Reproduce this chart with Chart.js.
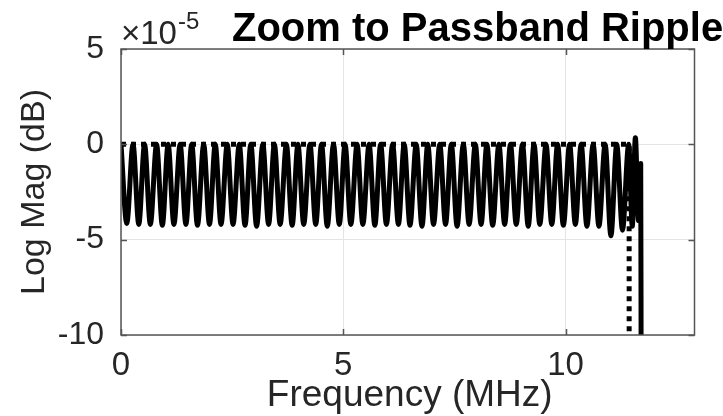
<!DOCTYPE html>
<html>
<head>
<meta charset="utf-8">
<title>Zoom to Passband Ripple</title>
<script src="https://cdn.jsdelivr.net/npm/chart.js@4.4.1/dist/chart.umd.min.js"></script>
<style>
  html, body { margin:0; padding:0; background:#fff; }
</style>
</head>
<body>
<canvas id="chart" width="723" height="416"></canvas>
<script>
// ===============================
// Data (magnitudes in units of 1e-5 dB)
// ===============================
// Measured filter response: ripple peaks/troughs across the passband, then the band edge
const rippleFreq = [
  0.00, 0.13, 0.27, 0.40, 0.53, 0.66, 0.80, 0.93, 1.06, 1.19,
  1.33, 1.46, 1.59, 1.72, 1.86, 1.99, 2.12, 2.25, 2.39, 2.52,
  2.66, 2.79, 2.92, 3.05, 3.19, 3.32, 3.45, 3.58, 3.72, 3.85,
  3.98, 4.11, 4.25, 4.38, 4.51, 4.64, 4.78, 4.91, 5.04, 5.17,
  5.31, 5.44, 5.58, 5.71, 5.84, 5.97, 6.11, 6.24, 6.37, 6.50,
  6.64, 6.77, 6.90, 7.03, 7.17, 7.30, 7.43, 7.56, 7.70, 7.83,
  7.97, 8.10, 8.23, 8.36, 8.50, 8.63, 8.76, 8.89, 9.03, 9.16,
  9.29, 9.42, 9.56, 9.69, 9.82, 9.95, 10.09, 10.22, 10.35, 10.48,
  10.62, 10.75, 10.89, 11.02, 11.15, 11.28, 11.42, 11.50, 11.57, 11.64,
  11.69, 11.70
];
const rippleMag = [
  0, -4.15, 0, -4.2, 0, -4.2, 0, -4.25, 0, -4.2,
  0, -4.2, 0, -4.25, 0, -4.2, 0, -4.2, 0, -4.2,
  0, -4.25, 0, -4.3, 0, -4.2, 0, -4.2, 0, -4.25,
  0, -4.2, 0, -4.2, 0, -4.3, 0, -4.2, 0, -4.2,
  0, -4.2, 0, -4.25, 0, -4.2, 0, -4.2, 0, -4.25,
  0, -4.3, 0, -4.2, 0, -4.2, 0, -4.3, 0, -4.2,
  0, -4.2, 0, -4.25, 0, -4.2, 0, -4.2, 0, -4.3,
  0, -4.2, 0, -4.2, 0, -4.25, 0, -4.2, 0, -4.3,
  0, -4.3, 0, -4.8, 0, -4.5, 0, -4.3, 0.35, -4.0,
  -1.0, -12
];
// Ideal (spec) response: flat to the band edge, then a brick-wall drop
const idealFreq = [0, 11.43, 11.43];
const idealMag  = [0, 0, -12];

const xTicks = [0, 5, 10];
const yTicks = [-10, -5, 0, 5];
const X_MAX = 12.9;

const FONT   = "'Liberation Sans', Arial, Helvetica, sans-serif";
const AXCOL  = "#262626";
const GRID   = "#e4e4e4";

const toPts = (xs, ys) => xs.map((x, i) => ({ x, y: ys[i] }));

// ===============================
// Frame, inward ticks, labels
// ===============================
const framePlugin = {
  id: "frame",
  afterDraw(chart) {
    const { ctx, chartArea: a, scales: { x, y } } = chart;
    ctx.save();
    ctx.strokeStyle = "#555";
    ctx.lineWidth = 1.5;
    ctx.strokeRect(a.left, a.top, a.right - a.left, a.bottom - a.top);

    // inward tick marks on all four sides
    const L = 6;
    ctx.beginPath();
    xTicks.forEach(v => {
      const px = Math.round(x.getPixelForValue(v)) + 0.5;
      ctx.moveTo(px, a.bottom); ctx.lineTo(px, a.bottom - L);
      ctx.moveTo(px, a.top);    ctx.lineTo(px, a.top + L);
    });
    yTicks.forEach(v => {
      const py = Math.round(y.getPixelForValue(v)) + 0.5;
      ctx.moveTo(a.left, py);  ctx.lineTo(a.left + L, py);
      ctx.moveTo(a.right, py); ctx.lineTo(a.right - L, py);
    });
    ctx.stroke();

    // axis titles
    ctx.fillStyle = AXCOL;
    ctx.textAlign = "center";
    ctx.textBaseline = "alphabetic";
    ctx.font = `37px ${FONT}`;
    ctx.fillText("Frequency (MHz)", (a.left + a.right) / 2 + 2, 406);

    ctx.save();
    ctx.translate(44, (a.top + a.bottom) / 2);
    ctx.rotate(-Math.PI / 2);
    ctx.font = `34px ${FONT}`;
    ctx.fillText("Log Mag (dB)", 0, 0);
    ctx.restore();

    // exponent label
    ctx.textAlign = "left";
    ctx.font = `33px ${FONT}`;
    ctx.fillText("\u00d710", 121, 44);
    const w = ctx.measureText("\u00d710").width;
    ctx.font = `24px ${FONT}`;
    ctx.fillText("-5", 121 + w + 1, 29);

    // title
    ctx.fillStyle = "#000";
    ctx.font = `bold 40px ${FONT}`;
    ctx.fillText("Zoom to Passband Ripple", 232, 41);
    ctx.restore();
  }
};

new Chart(document.getElementById("chart"), {
  type: "line",
  data: {
    datasets: [
      {
        label: "Ideal",
        data: toPts(idealFreq, idealMag),
        borderColor: "#000",
        borderWidth: 5,
        borderDash: [5, 5],
        pointRadius: 0,
        tension: 0
      },
      {
        label: "Measured",
        data: toPts(rippleFreq, rippleMag),
        borderColor: "#000",
        borderWidth: 5,
        borderJoinStyle: "round",
        borderCapStyle: "round",
        pointRadius: 0,
        cubicInterpolationMode: "monotone"
      }
    ]
  },
  options: {
    responsive: false,
    animation: false,
    events: [],
    layout: { padding: { left: 0, right: 28.5, top: 49, bottom: 0 } },
    plugins: { legend: { display: false }, tooltip: { enabled: false } },
    scales: {
      x: {
        type: "linear",
        min: 0, max: X_MAX,
        afterBuildTicks: s => { s.ticks = xTicks.map(v => ({ value: v })); },
        afterFit: s => { s.height = 81; },
        ticks: { color: AXCOL, font: { family: FONT, size: 33 }, padding: 11, maxRotation: 0 },
        grid: { color: GRID, lineWidth: 1, drawTicks: false },
        border: { display: false }
      },
      y: {
        type: "linear",
        min: -10, max: 5,
        afterBuildTicks: s => { s.ticks = yTicks.map(v => ({ value: v })); },
        afterFit: s => { s.width = 121; },
        ticks: { color: AXCOL, font: { family: FONT, size: 32 }, padding: 17 },
        grid: { color: GRID, lineWidth: 1, drawTicks: false },
        border: { display: false }
      }
    }
  },
  plugins: [framePlugin]
});
</script>
</body>
</html>
